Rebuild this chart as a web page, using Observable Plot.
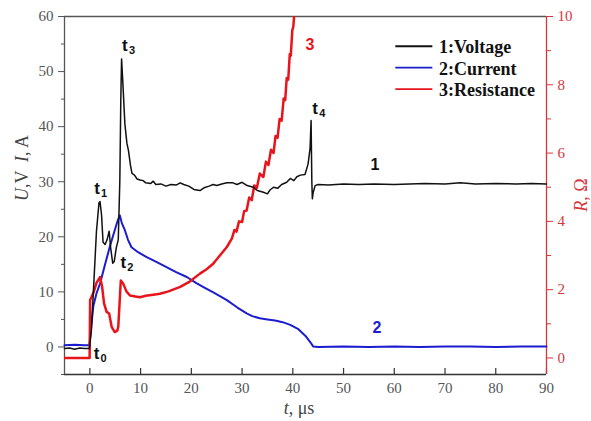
<!DOCTYPE html>
<html>
<head>
<meta charset="utf-8">
<script src="https://cdn.jsdelivr.net/npm/d3@7"></script>
<script src="https://cdn.jsdelivr.net/npm/@observablehq/plot@0.6"></script>
<style>
  html, body { margin: 0; padding: 0; background: #fff; }
  #chart svg { display: block; }
</style>
</head>
<body>
<div id="chart"></div>
<script>
// ---- data ----
const voltage = [
  [-5,-0.3],[-4,-0.2],[-3,-0.4],[-2,-0.2],[-1,-0.3],[-0.1,-0.3],
  [0.3,3],[0.8,12],[1.3,21],[1.8,26.2],[2.0,26.4],[2.3,24],[2.6,19],[3.0,18.6],[3.4,19.5],[3.8,21],
  [4.1,18],[4.5,15.2],[4.8,15.5],[5.2,18],[5.6,19.5],[5.9,30],[6.1,45],[6.25,52.3],[6.5,48],
  [6.9,40.5],[7.3,37],[7.6,35.7],[8.0,33],[8.3,31.5],[8.8,31.2],[9.3,30.5],[9.9,30.3],[10.5,30.2],
  [11,29.8],[12,29.7],[12.5,30.1],[13,29.5],[14,29.6],[15,29.2],[16,29.5],[17,29.4],[17.8,29.8],
  [18.5,29.5],[19.5,29.2],[20.5,28.6],[21.7,28.4],[22.5,28.9],[23.5,29.2],[24.3,29.5],[25,29.3],
  [26,29.6],[27,29.8],[28.2,29.8],[29,29.5],[30,29.9],[31,29.3],[32.2,29],[33,28.4],[34.2,28.1],
  [35,27.8],[35.5,28.5],[36.2,29],[37,28.8],[37.8,29.5],[38.8,29.9],[39.5,30.6],[40.2,30.2],
  [40.8,30.9],[41.5,31.2],[42.4,31.3],[43,33.2],[43.4,36],[43.6,41.1],[43.75,30],[43.85,26.9],
  [44,28],[44.4,29.3],[45,29.5],[47,29.4],[50,29.6],[53,29.5],[56,29.6],[60,29.5],[63,29.6],
  [66,29.7],[70,29.6],[73,29.8],[76,29.6],[80,29.7],[84,29.6],[87,29.7],[90,29.6]
];
const current = [
  [-5,0.3],[-3,0.4],[-1,0.3],[-0.1,0.3],[0.3,4],[0.7,7.5],[1.3,9.7],[2,11.5],[3,15],[3.9,18.1],
  [4.9,21.2],[5.5,23],[5.9,23.9],[6.3,22.5],[6.9,21.2],[7.5,19.5],[8.2,18.1],[9.5,17.2],[11.2,16.3],
  [13,15.5],[15.1,14.5],[17,13.6],[19.1,12.7],[21,11.6],[22.3,10.9],[24.5,9.8],[27,8.5],[29,7.2],
  [30.9,6.1],[32,5.6],[33.5,5.2],[35,5],[36.5,4.8],[38,4.5],[39.5,4.0],[41,3.3],[42.5,2.0],
  [43.5,0.8],[44,0.1],[45,0.0],[50,0.1],[55,0.0],[60,0.1],[65,0.0],[70,0.1],[75,0.1],[80,0.0],
  [85,0.1],[90,0.1]
];
const resistance = [
  [-5,0],[-0.05,0],[0.05,1.7],[0.3,1.78],[0.8,1.95],[1.3,2.2],[2.0,2.37],[2.4,2.1],[2.8,1.6],
  [3.3,1.35],[3.8,1.3],[4.3,0.91],[4.9,0.76],[5.4,0.8],[5.6,0.91],[5.85,1.6],[6.1,2.27],[6.6,2.17],
  [7.2,1.95],[7.9,1.83],[9,1.8],[9.9,1.78],[11,1.82],[12.5,1.85],[13.8,1.88],[15.5,1.95],
  [17.8,2.08],[19.5,2.22],[21.7,2.47],[23,2.6],[24.3,2.76],[25.5,2.98],[27,3.25],[28,3.5],
  [28.5,3.75],[28.9,3.7],[29.4,4.0],[30,3.98],[30.4,4.3],[30.9,4.32],[31.4,4.7],[31.9,4.62],
  [32.4,5.05],[32.9,4.98],[33.5,5.4],[34.2,5.3],[34.7,5.75],[35.2,5.65],[35.7,6.1],[36.2,6.0],
  [36.6,6.5],[37,6.45],[37.4,7.0],[37.8,6.95],[38.2,7.6],[38.5,7.55],[38.8,8.2],[39.1,8.15],
  [39.4,8.9],[39.6,8.85],[39.9,9.6],[40.1,9.7],[40.5,10.5]
];
const xTicks = [0,10,20,30,40,50,60,70,80,90];
const yTicks = [0,10,20,30,40,50,60];
const yMinor = [-5,5,15,25,35,45,55];
const rTicks = [0,2,4,6,8,10];
const rMinor = [1,3,5,7,9];
const legendLabels = ["1:Voltage","2:Current","3:Resistance"];
const tLabels = [["0",1.3,-1.2],["1",1.4,28.8],["2",6.6,15.4],["3",6.9,54.8],["4",44.4,43.3]];
const curveLabels = [["1",56.2,33],["2",56.6,3.4],["3",43.4,54.8]];

// ---- styles ----
const BLACK = "#111", BLUE = "#1c1ccf", RED = "#e8141c", AXRED = "#d7353c", GREY = "#555";
const rToU = r => 6.2 * r - 2;   // right axis R mapped onto left U scale
const uToR = u => (u + 2) / 6.2;
const serif = "Liberation Serif, DejaVu Serif, serif";
const sans = "Liberation Sans, Arial, sans-serif";
const curveColors = [BLACK, BLUE, RED];

const chart = Plot.plot({
  width: 591, height: 421,
  marginLeft: 64, marginRight: 45, marginTop: 16, marginBottom: 47,
  x: {domain: [-5, 90]},
  y: {domain: [-5, 60]},
  style: {fontFamily: serif, background: "#fff", overflow: "visible"},
  marks: [
    Plot.axisX(xTicks, {tickSize: 0, tickPadding: 8, fontSize: 15, color: GREY, label: null}),
    Plot.ruleX(xTicks, {y1: -5, y2: -3.9, stroke: "#333", strokeWidth: 1.2}),
    Plot.axisY(yTicks, {anchor: "left", tickSize: 6, tickPadding: 5, fontSize: 15, color: GREY, label: null}),
    Plot.axisY(yMinor, {anchor: "left", tickSize: 3, tickFormat: () => "", color: GREY, label: null}),
    Plot.axisY(rTicks.map(rToU), {anchor: "right", tickSize: 6, tickPadding: 5, fontSize: 15,
      color: AXRED, label: null, tickFormat: u => String(Math.round(uToR(u)))}),
    Plot.axisY(rMinor.map(rToU), {anchor: "right", tickSize: 4, tickFormat: () => "", color: AXRED, label: null}),
    Plot.ruleY([60], {stroke: GREY, strokeWidth: 1.3}),
    Plot.ruleY([-5], {stroke: "#333", strokeWidth: 1.3}),
    Plot.ruleX([-5], {stroke: GREY, strokeWidth: 1.3}),
    Plot.ruleX([90], {stroke: AXRED, strokeWidth: 1.3}),
    Plot.line(current, {x: d => d[0], y: d => d[1], stroke: BLUE, strokeWidth: 2}),
    Plot.line(resistance, {x: d => d[0], y: d => rToU(d[1]), stroke: RED, strokeWidth: 2.5, clip: true}),
    Plot.line(voltage, {x: d => d[0], y: d => d[1], stroke: BLACK, strokeWidth: 1.5}),
    // legend
    Plot.ruleY(legendLabels, {y: (d, i) => 54.6 - i * 3.9, x1: 60.3, x2: 67.6,
      stroke: (d, i) => curveColors[i], strokeWidth: 1.8}),
    Plot.text(legendLabels, {x: 68.8, y: (d, i) => 54.4 - i * 3.9, text: d => d, textAnchor: "start",
      fontSize: 18, fontWeight: "bold", fill: BLACK, fontFamily: serif}),
    // t labels
    Plot.text(tLabels, {x: d => d[1], y: d => d[2], text: () => "t", fontSize: 17, fontWeight: "bold",
      fontFamily: sans, fill: BLACK}),
    Plot.text(tLabels, {x: d => d[1], y: d => d[2], text: d => d[0], dx: 4, dy: 5, fontSize: 11,
      fontWeight: "bold", fontFamily: sans, fill: BLACK, textAnchor: "start"}),
    Plot.text(curveLabels, {x: d => d[1], y: d => d[2], text: d => d[0], fontSize: 16, fontWeight: "bold",
      fontFamily: sans, fill: (d, i) => curveColors[i]})
  ]
});

// axis titles with mixed italic / upright parts
const svg = d3.select(chart);
function title(x, y, rot, parts, color) {
  const t = svg.append("text")
    .attr("transform", `translate(${x},${y}) rotate(${rot})`)
    .attr("text-anchor", "middle").attr("dominant-baseline", "middle")
    .attr("font-family", serif).attr("font-size", 18).attr("fill", color);
  parts.forEach(([s, it]) => t.append("tspan").attr("font-style", it ? "italic" : "normal").text(s));
}
title(24, 168, -90, [["U", true], [",V  ", false], ["I", true], [", A", false]], "#444");
title(299, 410, 0, [["t", true], [", μs", false]], "#444");
title(583, 195, -90, [["R", true], [", Ω", false]], AXRED);

document.getElementById("chart").append(chart);
</script>
</body>
</html>
